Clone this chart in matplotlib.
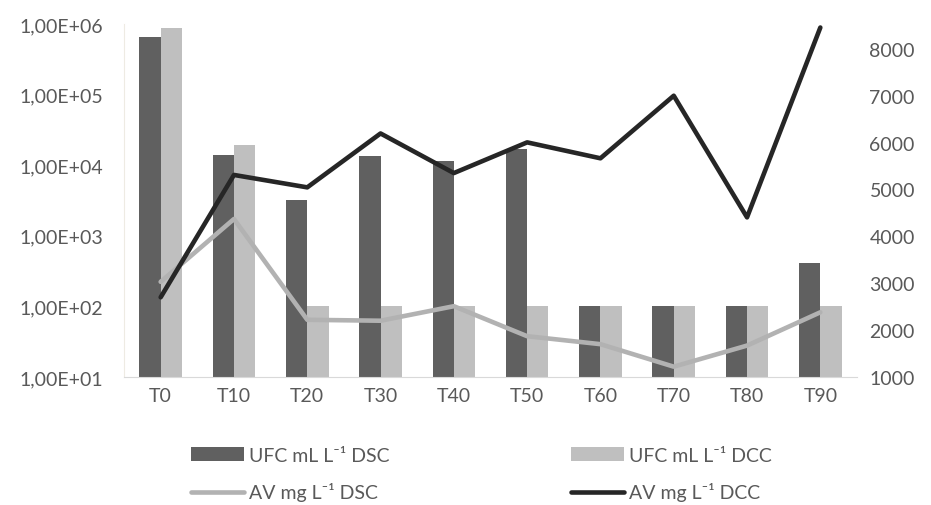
import numpy as np
import matplotlib.pyplot as plt
from matplotlib.ticker import FuncFormatter

plt.rcParams['font.family'] = ['Lato', 'DejaVu Sans']

# data
categories = ['T0', 'T10', 'T20', 'T30', 'T40', 'T50', 'T60', 'T70', 'T80', 'T90']
ufc_dsc = [6.5e5, 1.4e4, 3.2e3, 1.35e4, 1.15e4, 1.7e4, 100, 100, 100, 410]
ufc_dcc = [8.8e5, 1.95e4, 100, 100, 100, 100, 100, 100, 100, 100]
av_dsc = [3030, 4370, 2220, 2200, 2510, 1870, 1700, 1220, 1670, 2380]
av_dcc = [2700, 5310, 5045, 6195, 5350, 6005, 5665, 7000, 4405, 8455]

x = np.arange(len(categories))
w = 0.29
txt = '#595959'

fig = plt.figure(figsize=(9.31, 5.06), dpi=100)
ax = fig.add_axes([0.1332, 0.253, 0.7873, 0.6976])

b1 = ax.bar(x - w / 2, ufc_dsc, w, color='#606060', zorder=2)
b2 = ax.bar(x + w / 2, ufc_dcc, w, color='#bfbfbf', zorder=2)
ax.set_yscale('log')
ax.set_ylim(10, 1e6)
ax.set_xlim(-0.5, len(categories) - 0.5)
ax.set_yticks([1e1, 1e2, 1e3, 1e4, 1e5, 1e6])
ax.yaxis.set_major_formatter(FuncFormatter(lambda v, p: f'{v:.2E}'.replace('.', ',')))
ax.yaxis.set_minor_locator(plt.NullLocator())
ax.set_xticks(x)
ax.set_xticklabels(categories)
ax.tick_params(length=0, labelsize=14, colors=txt, pad=7)
ax.tick_params(axis='y', pad=15)

ax2 = ax.twinx()
l1, = ax2.plot(x, av_dsc, color='#b2b2b2', lw=3.3, solid_capstyle='round')
l2, = ax2.plot(x, av_dcc, color='#262626', lw=3.3, solid_capstyle='round')
ax2.set_ylim(1000, 8530)
ax2.set_yticks(range(1000, 8001, 1000))
ax2.tick_params(length=0, labelsize=14, colors=txt, pad=9)

for a in (ax, ax2):
    for s in ['top', 'right']:
        a.spines[s].set_visible(False)
ax2.spines['left'].set_visible(False)
ax2.spines['bottom'].set_visible(False)
ax.spines['left'].set_color('#eeebe3')
ax.spines['bottom'].set_color('#d9d9d9')

# legend: one block per column, placed like the reference
leg_kw = dict(loc='upper left', frameon=False, fontsize=14, labelcolor=txt,
              handlelength=2.7, handletextpad=0.3, labelspacing=0.95,
              borderpad=0, borderaxespad=0)
fig.legend([b1, l1], ['UFC mL L⁻¹ DSC', 'AV mg L⁻¹ DSC'],
           bbox_to_anchor=(191 / 931, 1 - 448 / 506), **leg_kw)
fig.legend([b2, l2], ['UFC mL L⁻¹ DCC', 'AV mg L⁻¹ DCC'],
           bbox_to_anchor=(571 / 931, 1 - 448 / 506), **leg_kw)

fig.savefig('out.png', dpi=100)
